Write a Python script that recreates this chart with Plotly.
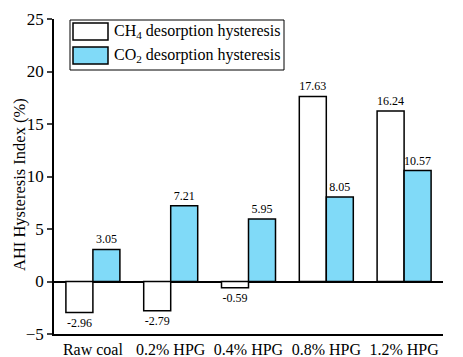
import plotly.graph_objects as go

categories = ["Raw coal", "0.2% HPG", "0.4% HPG", "0.8% HPG", "1.2% HPG"]
ch4_values = [-2.96, -2.79, -0.59, 17.63, 16.24]
co2_values = [3.05, 7.21, 5.95, 8.05, 10.57]
y_ticks = [-5, 0, 5, 10, 15, 20, 25]
series_names = ["CH<sub>4</sub> desorption hysteresis", "CO<sub>2</sub> desorption hysteresis"]
series_colors = ["white", "#80DAF8"]

font_family = "Liberation Serif"

OFF = 8  # browser body margin
W, H = 463 - OFF, 357 - OFF
ML, MR, MT, MB = 54 - OFF, 20, 19 - OFF, 23
PW, PH = W - ML - MR, H - MT - MB

def px(x):
    return (x - OFF - ML) / PW

def py(y):
    return 1 - (y - OFF - MT) / PH

fig = go.Figure()
for vals, name, col in zip([ch4_values, co2_values], series_names, series_colors):
    fig.add_trace(go.Bar(
        x=categories, y=vals, name=name, showlegend=False,
        marker=dict(color=col, line=dict(color="black", width=1.5)),
        text=[f"{v:.2f}" for v in vals], textposition="outside",
        textfont=dict(size=12, color="black", family=font_family), cliponaxis=False,
    ))

shapes = []
annotations = []
shapes.append(dict(type="rect", xref="paper", yref="paper",
                   x0=px(70), x1=px(284), y0=py(70), y1=py(20),
                   line=dict(color="black", width=1), fillcolor="white", layer="above"))
for i, (name, col) in enumerate(zip(series_names, series_colors)):
    top = 23 + i * 24
    shapes.append(dict(type="rect", xref="paper", yref="paper",
                       x0=px(73), x1=px(108), y0=py(top + 17), y1=py(top),
                       line=dict(color="black", width=1.5), fillcolor=col, layer="above"))
    annotations.append(dict(text=name, xref="paper", yref="paper",
                            x=px(112), y=py(top + 8.5), xanchor="left", yanchor="middle",
                            showarrow=False, font=dict(size=16, family=font_family, color="black")))

annotations.append(dict(text="AHI Hysteresis Index (%)", xref="paper", yref="paper",
                        x=px(19), y=py(185), xanchor="center", yanchor="middle", textangle=-90,
                        showarrow=False, font=dict(size=16.5, family=font_family, color="black")))

fig.update_layout(
    width=W, height=H,
    margin=dict(l=ML, r=MR, t=MT, b=MB),
    plot_bgcolor="white", paper_bgcolor="white",
    font=dict(family=font_family, color="black", size=16),
    barmode="group", bargap=0.306, bargroupgap=0,
    showlegend=False,
    shapes=shapes, annotations=annotations,
    xaxis=dict(showline=True, linecolor="black", linewidth=1.5, automargin=False,
               ticks="", tickfont=dict(size=16, family=font_family), showgrid=False),
    yaxis=dict(range=[-5, 25], tickvals=y_ticks, showline=True, linecolor="black",
               linewidth=1.5, ticks="outside", ticklen=5, tickwidth=1.5, automargin=False,
               tickfont=dict(size=17, family=font_family), showgrid=False, zeroline=True,
               zerolinecolor="black", zerolinewidth=1.5),
)

fig.write_html("out.html")
